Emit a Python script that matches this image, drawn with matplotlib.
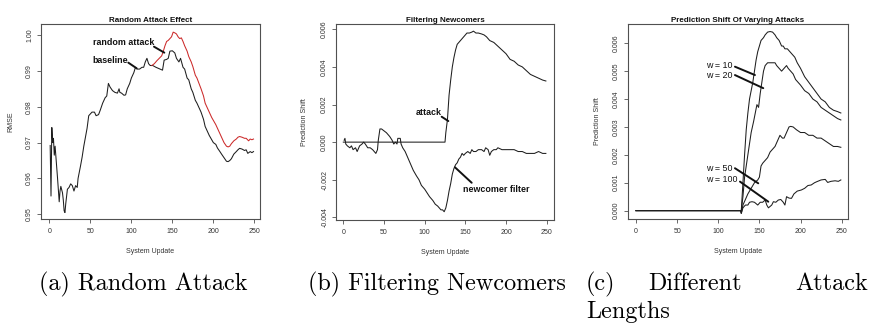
import matplotlib
matplotlib.use("Agg")
import matplotlib.pyplot as plt

plt.rcParams['font.family'] = ['Liberation Sans', 'DejaVu Sans']

# ---------------- data: (a) Random Attack ----------------
base_x = [1, 2, 3, 4, 5, 6, 7, 8, 10, 12, 13, 14, 16, 17, 18, 19, 20, 22, 24, 26, 28, 30,
          32, 34, 35, 38, 40, 42, 44, 46, 48, 50, 52, 55, 57, 60, 62, 65, 68, 70, 72, 74,
          77, 80, 83, 85, 86, 88, 91, 93, 95, 98, 100, 103, 105, 107, 110, 113, 115, 117,
          119, 121, 123, 126, 130, 135, 138, 140, 143, 145, 147, 150, 153, 155, 158, 160,
          163, 165, 168, 170, 173, 175, 178, 180, 183, 185, 188, 190, 193, 195, 198, 200,
          203, 205, 208, 210, 213, 216, 218, 220, 222, 225, 228, 230, 232, 235, 238, 240,
          242, 245, 247, 249]
base_y = [0.9692, 0.9551, 0.9742, 0.9700, 0.9712, 0.9665, 0.9690, 0.9660, 0.9600, 0.9535,
          0.9565, 0.9578, 0.9560, 0.9540, 0.9510, 0.9505, 0.9530, 0.9570, 0.9575, 0.9585,
          0.9580, 0.9565, 0.9580, 0.9575, 0.9600, 0.9635, 0.9660, 0.9690, 0.9715, 0.9740,
          0.9775, 0.9780, 0.9785, 0.9785, 0.9775, 0.9778, 0.9790, 0.9810, 0.9825, 0.9830,
          0.9865, 0.9855, 0.9845, 0.9840, 0.9838, 0.9850, 0.9840, 0.9838, 0.9832, 0.9833,
          0.9850, 0.9865, 0.9880, 0.9895, 0.9910, 0.9905, 0.9905, 0.9910, 0.9910, 0.9925,
          0.9935, 0.9920, 0.9915, 0.9915, 0.9910, 0.9905, 0.9902, 0.9930, 0.9932, 0.9935,
          0.9955, 0.9956, 0.9950, 0.9935, 0.9925, 0.9935, 0.9910, 0.9905, 0.9880, 0.9875,
          0.9850, 0.9840, 0.9818, 0.9810, 0.9795, 0.9785, 0.9765, 0.9745, 0.9730, 0.9720,
          0.9708, 0.9700, 0.9695, 0.9685, 0.9675, 0.9668, 0.9658, 0.9648, 0.9647, 0.9650,
          0.9655, 0.9668, 0.9675, 0.9680, 0.9684, 0.9682, 0.9678, 0.9680, 0.9670, 0.9675,
          0.9672, 0.9675]

rand_x = [125, 128, 131, 134, 137, 139, 141, 143, 145, 147, 149, 151, 153, 155, 157, 159,
          161, 163, 165, 168, 170, 173, 175, 178, 180, 183, 185, 188, 190, 193, 195, 198,
          200, 203, 205, 208, 210, 213, 216, 218, 220, 222, 225, 228, 230, 232, 235, 238,
          240, 243, 245, 247, 249]
rand_y = [0.9915, 0.9920, 0.9928, 0.9935, 0.9942, 0.9955, 0.9970, 0.9982, 0.9985, 0.9990,
          0.9995, 1.0008, 1.0006, 1.0003, 0.9995, 0.9990, 0.9992, 0.9982, 0.9970, 0.9955,
          0.9940, 0.9925, 0.9912, 0.9888, 0.9880, 0.9862, 0.9850, 0.9830, 0.9810, 0.9795,
          0.9785, 0.9770, 0.9762, 0.9750, 0.9740, 0.9725, 0.9715, 0.9700, 0.9690, 0.9688,
          0.9690, 0.9697, 0.9705, 0.9710, 0.9715, 0.9717, 0.9715, 0.9712, 0.9712, 0.9705,
          0.9710, 0.9708, 0.9710]

# ---------------- data: (b) Filtering Newcomers ----------------
attack_x = [0, 125, 126, 128, 130, 132, 134, 136, 138, 140, 142, 144, 146, 148, 150, 152,
            155, 158, 160, 163, 166, 170, 173, 176, 180, 185, 190, 195, 200, 205, 210, 215,
            220, 225, 230, 235, 240, 245, 249]
attack_y = [0.0, 0.0, 0.0005, 0.0012, 0.0025, 0.0033, 0.0040, 0.0045, 0.0049, 0.0052,
            0.0053, 0.0054, 0.0055, 0.0056, 0.0057, 0.0058, 0.0058, 0.00585, 0.0059, 0.0058,
            0.0058, 0.00575, 0.0057, 0.0056, 0.0054, 0.0053, 0.0051, 0.0049, 0.0047, 0.0044,
            0.0043, 0.0041, 0.0040, 0.0038, 0.0036, 0.0035, 0.0034, 0.0033, 0.00325]

filt_x = [1, 2, 3, 5, 8, 10, 12, 15, 17, 20, 23, 25, 27, 30, 33, 36, 38, 40, 42, 43, 45, 47,
          50, 53, 55, 57, 60, 62, 64, 66, 67, 70, 71, 73, 76, 80, 83, 86, 90, 93, 96, 100,
          103, 106, 110, 113, 116, 118, 120, 122, 124, 126, 128, 130, 132, 134, 136, 138,
          140, 142, 144, 146, 148, 150, 153, 156, 158, 160, 163, 166, 170, 173, 175, 178,
          180, 182, 185, 188, 190, 195, 200, 205, 210, 215, 220, 225, 230, 235, 240, 245, 249]
filt_y = [0.0001, 0.0002, -0.0001, -0.0002, -0.0003, -0.0002, -0.0004, -0.0003, -0.0005,
          -0.0002, -0.0001, 0.0, -0.0001, -0.0003, -0.0003, -0.0004, -0.0005, -0.0006,
          -0.0004, 0.0001, 0.0007, 0.0007, 0.0006, 0.0005, 0.0004, 0.0003, 0.0001, -0.0001,
          0.0, -0.0001, 0.0002, 0.0002, -0.0001, -0.0003, -0.0005, -0.0009, -0.0012,
          -0.0015, -0.0018, -0.0020, -0.0023, -0.0025, -0.0027, -0.0029, -0.0031, -0.0033,
          -0.0034, -0.0035, -0.0036, -0.0036, -0.0037, -0.0035, -0.0031, -0.0026, -0.0022,
          -0.0017, -0.0014, -0.0012, -0.0011, -0.0009, -0.0008, -0.0006, -0.0007, -0.0006,
          -0.0005, -0.0006, -0.0004, -0.0005, -0.0005, -0.0004, -0.0004, -0.0005, -0.0003,
          -0.0004, -0.0007, -0.0005, -0.0004, -0.0004, -0.0003, -0.0004, -0.0004, -0.0004,
          -0.0004, -0.0005, -0.0005, -0.0006, -0.0006, -0.0006, -0.0005, -0.0006, -0.0006]

# ---------------- data: (c) Different Attack Lengths ----------------
w10_x = [0, 127, 128, 130, 132, 134, 136, 138, 140, 142, 144, 146, 148, 150, 152, 155, 157,
         160, 163, 166, 169, 171, 174, 177, 179, 181, 184, 187, 190, 193, 196, 200, 205, 210,
         215, 220, 225, 230, 235, 240, 245, 249]
w10_y = [0.0, 0.0, 0.0, 0.0010, 0.0020, 0.0029, 0.0035, 0.0040, 0.0043, 0.0046, 0.0050,
         0.0054, 0.0057, 0.0059, 0.0061, 0.0062, 0.0063, 0.0064, 0.00642, 0.0064, 0.0063,
         0.0062, 0.0061, 0.0059, 0.0059, 0.0058, 0.0058, 0.0057, 0.0056, 0.0055, 0.0053,
         0.0051, 0.0048, 0.0046, 0.0044, 0.0042, 0.0040, 0.0039, 0.0037, 0.0036, 0.00355,
         0.0035]

w20_x = [0, 127, 128, 130, 132, 135, 138, 140, 143, 145, 147, 149, 151, 153, 155, 157, 160,
         163, 166, 169, 171, 174, 177, 180, 183, 185, 188, 191, 194, 197, 200, 205, 210, 215,
         220, 225, 230, 235, 240, 245, 249]
w20_y = [0.0, 0.0, 0.0, 0.0005, 0.0012, 0.0018, 0.0024, 0.0028, 0.0032, 0.0035, 0.0038,
         0.0037, 0.0042, 0.0046, 0.0050, 0.0052, 0.0053, 0.0053, 0.0053, 0.0053, 0.0052,
         0.0051, 0.0050, 0.0051, 0.0052, 0.0051, 0.0050, 0.0049, 0.0047, 0.0046, 0.0045,
         0.0043, 0.0042, 0.0040, 0.0039, 0.0037, 0.0036, 0.0035, 0.0034, 0.0033, 0.00325]

w50_x = [0, 127, 128, 130, 133, 136, 140, 144, 148, 150, 152, 154, 157, 160, 163, 166, 169,
         172, 175, 178, 180, 183, 186, 188, 191, 195, 200, 205, 210, 215, 220, 225, 230, 235,
         240, 245, 249]
w50_y = [0.0, 0.0, -0.0001, 0.0002, 0.0004, 0.0006, 0.0008, 0.0010, 0.0011, 0.0012, 0.0016,
         0.0017, 0.0018, 0.0019, 0.0021, 0.0022, 0.0023, 0.0025, 0.0027, 0.0026, 0.0026,
         0.0028, 0.0030, 0.00302, 0.0030, 0.0029, 0.0028, 0.0028, 0.0027, 0.0027, 0.0026,
         0.0026, 0.0025, 0.0024, 0.0023, 0.0023, 0.00227]

w100_x = [0, 127, 128, 130, 133, 136, 138, 141, 144, 146, 148, 151, 154, 157, 159, 161, 163,
          165, 167, 170, 173, 176, 179, 181, 183, 186, 189, 192, 196, 201, 205, 209, 213, 217,
          220, 225, 230, 233, 237, 242, 246, 249]
w100_y = [0.0, 0.0, -0.0001, 0.0001, 0.0002, 0.0002, 0.0003, 0.00032, 0.0003, 0.00025,
          0.0002, 0.0003, 0.0003, 0.00038, 0.0002, 0.0001, 0.00015, 0.0002, 0.00032, 0.0003,
          0.00038, 0.0004, 0.0003, 0.0002, 0.0005, 0.00045, 0.00044, 0.0006, 0.0007, 0.00074,
          0.0008, 0.0009, 0.00092, 0.0010, 0.00104, 0.0011, 0.00112, 0.00101, 0.00105,
          0.00107, 0.00105, 0.0011]

x_ticks = [0, 50, 100, 150, 200, 250]
a_yticks = [0.95, 0.96, 0.97, 0.98, 0.99, 1.00]
a_ylabels = ['0.95', '0.96', '0.97', '0.98', '0.99', '1.00']
b_yticks = [-0.004, -0.002, 0.0, 0.002, 0.004, 0.006]
b_ylabels = ['-0.004', '-0.002', '0.000', '0.002', '0.004', '0.006']
c_yticks = [0.0, 0.001, 0.002, 0.003, 0.004, 0.005, 0.006]
c_ylabels = ['0.000', '0.001', '0.002', '0.003', '0.004', '0.005', '0.006']

titles = ['Random Attack Effect', 'Filtering Newcomers', 'Prediction Shift Of Varying Attacks']
ylabels = ['RMSE', 'Prediction Shift', 'Prediction Shift']
xlabel = 'System Update'

# ---------------- figure ----------------
W, H = 869, 327
fig = plt.figure(figsize=(W / 100, H / 100), dpi=100)
fig.patch.set_facecolor('white')

def box(l, r, t, b):
    return [l / W, (H - b) / H, (r - l) / W, (b - t) / H]

ax_a = fig.add_axes(box(41, 260, 24, 219))
ax_b = fig.add_axes(box(336, 554, 24, 220))
ax_c = fig.add_axes(box(628, 848, 24, 219))

LC = '#1e1e1e'
FR = '#505050'
TXT = '#333333'

def style(ax, yt, yl, title, ylab):
    ax.set_xticks(x_ticks)
    ax.set_xticklabels([str(v) for v in x_ticks])
    ax.set_yticks(yt)
    ax.set_yticklabels(yl)
    for s in ax.spines.values():
        s.set_color(FR)
        s.set_linewidth(0.8)
    ax.tick_params(axis='both', direction='out', length=2.6, width=0.6, color=FR,
                   labelsize=5, labelcolor=TXT)
    ax.tick_params(axis='x', pad=3.6)
    ax.tick_params(axis='y', pad=3.0)
    for lab in ax.get_yticklabels():
        lab.set_rotation(90)
        lab.set_va('center')
        lab.set_ha('right')
    ax.set_title(title, fontsize=5.8, fontweight='bold', color='#111111', pad=0)
    ax.title.set_position((0.5, 1.0))
    ax.set_xlabel(xlabel, fontsize=5, color=TXT)
    ax.set_ylabel(ylab, fontsize=5, color=TXT)

# (a)
ax_a.plot(base_x, base_y, color=LC, lw=0.75)
ax_a.plot(rand_x, rand_y, color='#cc2a2a', lw=0.75)
ax_a.set_xlim(-10.2, 256.9)
ax_a.set_ylim(0.9487, 1.00307)
style(ax_a, a_yticks, a_ylabels, titles[0], ylabels[0])
ax_a.title.set_y(1.082)
ax_a.xaxis.set_label_coords(0.5, -0.150)
ax_a.yaxis.set_label_coords(-0.123, 0.5)
ax_a.text(52.8, 0.998, 'random attack', fontsize=6.4, fontweight='bold', va='center', color='#111')
ax_a.text(52.8, 0.993, 'baseline', fontsize=6.4, fontweight='bold', va='center', color='#111')
ax_a.annotate('', xy=(140.2, 0.99508), xytext=(127.6, 0.99675),
              arrowprops=dict(arrowstyle='-', lw=1.4, color='#111', shrinkA=0, shrinkB=0))
ax_a.annotate('', xy=(106.5, 0.99071), xytext=(96.3, 0.99229),
              arrowprops=dict(arrowstyle='-', lw=1.4, color='#111', shrinkA=0, shrinkB=0))

# (b)
ax_b.plot(attack_x, attack_y, color=LC, lw=0.75)
ax_b.plot(filt_x, filt_y, color=LC, lw=0.75)
ax_b.set_xlim(-9.0, 259.0)
ax_b.set_ylim(-0.00414, 0.00628)
style(ax_b, b_yticks, b_ylabels, titles[1], ylabels[1])
ax_b.title.set_y(1.076)
ax_b.xaxis.set_label_coords(0.5, -0.148)
ax_b.yaxis.set_label_coords(-0.127, 0.5)
ax_b.text(88.9, 0.001585, 'attack', fontsize=6.4, fontweight='bold', va='center', color='#111')
ax_b.text(146.7, -0.0025, 'newcomer filter', fontsize=6.4, fontweight='bold', va='center', color='#111')
ax_b.annotate('', xy=(129.1, 0.00112), xytext=(120.9, 0.00135),
              arrowprops=dict(arrowstyle='-', lw=1.4, color='#111', shrinkA=0, shrinkB=0))
ax_b.annotate('', xy=(137.3, -0.00134), xytext=(157.8, -0.00216),
              arrowprops=dict(arrowstyle='-', lw=1.4, color='#111', shrinkA=0, shrinkB=0))

# (c)
for xs, ys in [(w10_x, w10_y), (w20_x, w20_y), (w50_x, w50_y), (w100_x, w100_y)]:
    ax_c.plot(xs, ys, color=LC, lw=0.75)
ax_c.set_xlim(-9.7, 257.7)
ax_c.set_ylim(-0.0003, 0.00669)
style(ax_c, c_yticks, c_ylabels, titles[2], ylabels[2])
ax_c.title.set_y(1.076)
ax_c.xaxis.set_label_coords(0.5, -0.150)
ax_c.yaxis.set_label_coords(-0.124, 0.5)
c_labels = [('w = 10', 85.1, 0.00522, (120.3, 0.00516), (144.6, 0.00486)),
            ('w = 20', 85.1, 0.00483, (120.3, 0.00486), (154.7, 0.00439)),
            ('w = 50', 84.7, 0.00152, (120.3, 0.00152), (148.6, 0.00098)),
            ('w = 100', 84.7, 0.00110, (126.4, 0.00104), (160.8, 0.00032))]
for txt, tx, ty, p0, p1 in c_labels:
    ax_c.text(tx, ty, txt, fontsize=6.4, va='center', color='#111')
    ax_c.annotate('', xy=p1, xytext=p0,
                  arrowprops=dict(arrowstyle='-', lw=1.4, color='#111', shrinkA=0, shrinkB=0))

# captions
def cap(x, y, s, ha='left'):
    fig.text(x / W, (H - y) / H, s, family=['cmr10', 'DejaVu Serif'], fontsize=17.4,
             va='baseline', ha=ha, color='black')

cap(39, 290, '(a) Random Attack')
cap(308, 290, '(b) Filtering Newcomers')
cap(586, 290, '(c)')
cap(648, 290, 'Different')
cap(868, 290, 'Attack', ha='right')
cap(586, 318, 'Lengths')

fig.savefig('out.png', dpi=100, facecolor='white')
